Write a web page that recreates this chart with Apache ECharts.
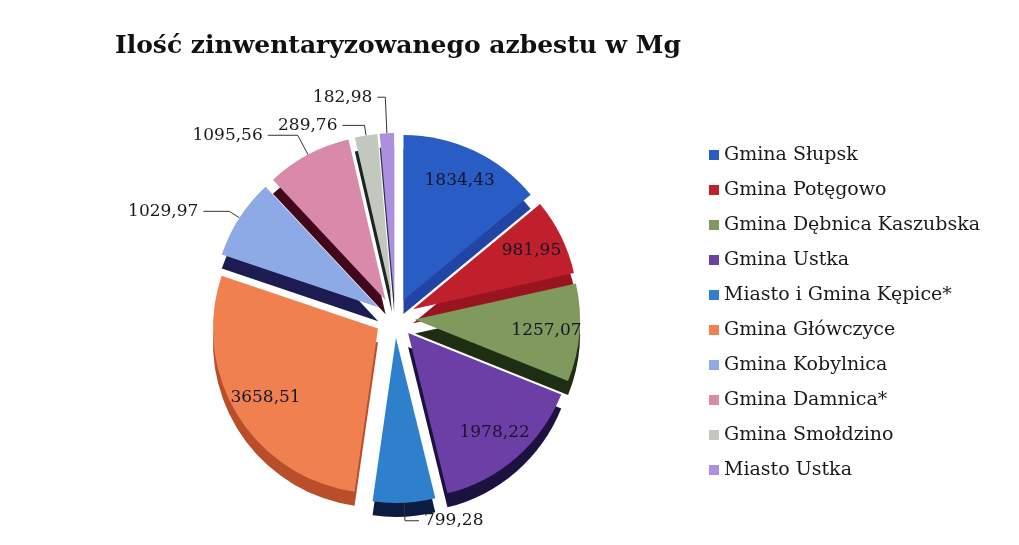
<!DOCTYPE html>
<html>
<head>
<meta charset="utf-8">
<script src="https://cdn.jsdelivr.net/npm/echarts@6/dist/echarts.min.js"></script>
<style>
html,body{margin:0;padding:0;background:#fff;}
#chart{width:1019px;height:545px;}
</style>
</head>
<body>
<div id="chart"></div>
<script>
const titleText = 'Ilość zinwentaryzowanego azbestu w Mg';
const categories = ['Gmina Słupsk','Gmina Potęgowo','Gmina Dębnica Kaszubska','Gmina Ustka','Miasto i Gmina Kępice*','Gmina Główczyce','Gmina Kobylnica','Gmina Damnica*','Gmina Smołdzino','Miasto Ustka'];
const values = [1834.43, 981.95, 1257.07, 1978.22, 799.28, 3658.51, 1029.97, 1095.56, 289.76, 182.98];
const topColors = ['#2a5cc6','#c0202c','#7f9a5c','#6b3fa6','#2e80cc','#f08050','#8eaae6','#d98aaa','#c2c8c0','#ad8fe0'];
const sideColors = ['#2244a4','#9a1420','#1e2e12','#1c1240','#0c1c40','#b84e2a','#1c1c52','#40081a','#202420','#2e2e50'];
const labelInside = [true, true, true, true, false, true, false, false, false, false];
// leader line lengths for outside labels [length, length2]
const leader = [null, null, null, null, [18, 14], null, [12, 26], [22, 30], [10, 22], [36, 8]];

const fmt = v => v.toFixed(2).replace('.', ',');
const center = [395, 318];
const radius = 165;
const depth = 14;
const explode = 20;
const labelFont = { fontFamily: 'DejaVu Serif', fontSize: 17 };

const topData = categories.map((name, i) => ({
  name,
  value: values[i],
  selected: true,
  itemStyle: { color: topColors[i] },
  label: labelInside[i]
    ? { show: false }
    : Object.assign({ show: true, position: 'outside', color: '#1a1a1a' }, labelFont),
  labelLine: labelInside[i]
    ? { show: false }
    : { show: true, length: leader[i][0], length2: leader[i][1] }
}));
const sideData = categories.map((name, i) => ({
  name,
  value: values[i],
  selected: true,
  itemStyle: { color: sideColors[i] }
}));
// transparent ring used only to place the inside value labels further out
const innerLabelData = categories.map((name, i) => ({
  name,
  value: values[i],
  selected: true,
  itemStyle: { color: 'rgba(0,0,0,0)' },
  label: labelInside[i]
    ? Object.assign({ show: true, position: 'inside', color: '#16162c' }, labelFont)
    : { show: false }
}));

const common = {
  type: 'pie',
  startAngle: 90,
  clockwise: true,
  selectedMode: 'multiple',
  selectedOffset: explode,
  emphasis: { disabled: true },
  tooltip: { show: false }
};

const chart = echarts.init(document.getElementById('chart'));
chart.setOption({
  backgroundColor: '#ffffff',
  animation: false,
  title: {
    text: titleText,
    left: 110,
    top: 29,
    textStyle: { fontFamily: 'DejaVu Serif', fontWeight: 'bold', fontSize: 25, color: '#111' }
  },
  legend: {
    orient: 'vertical',
    left: 704,
    top: 140,
    itemWidth: 10,
    itemHeight: 10,
    itemGap: 15,
    icon: 'rect',
    data: categories,
    selectedMode: false,
    textStyle: { fontFamily: 'DejaVu Serif', fontSize: 19, color: '#1a1a1a', lineHeight: 20 }
  },
  series: [
    Object.assign({}, common, {
      name: 'top',
      z: 3,
      center: center,
      radius: [0, radius],
      avoidLabelOverlap: false,
      label: { formatter: p => fmt(p.value) },
      labelLine: { lineStyle: { color: '#333', width: 1 } },
      data: topData
    }),
    Object.assign({}, common, {
      name: 'side',
      z: 1,
      silent: true,
      center: [center[0], center[1] + depth],
      radius: [0, radius],
      label: { show: false },
      labelLine: { show: false },
      data: sideData
    }),
    Object.assign({}, common, {
      name: 'labels',
      z: 4,
      silent: true,
      center: center,
      radius: [104, 154],
      avoidLabelOverlap: false,
      label: { formatter: p => fmt(p.value) },
      labelLine: { show: false },
      data: innerLabelData
    })
  ]
});
</script>
</body>
</html>
